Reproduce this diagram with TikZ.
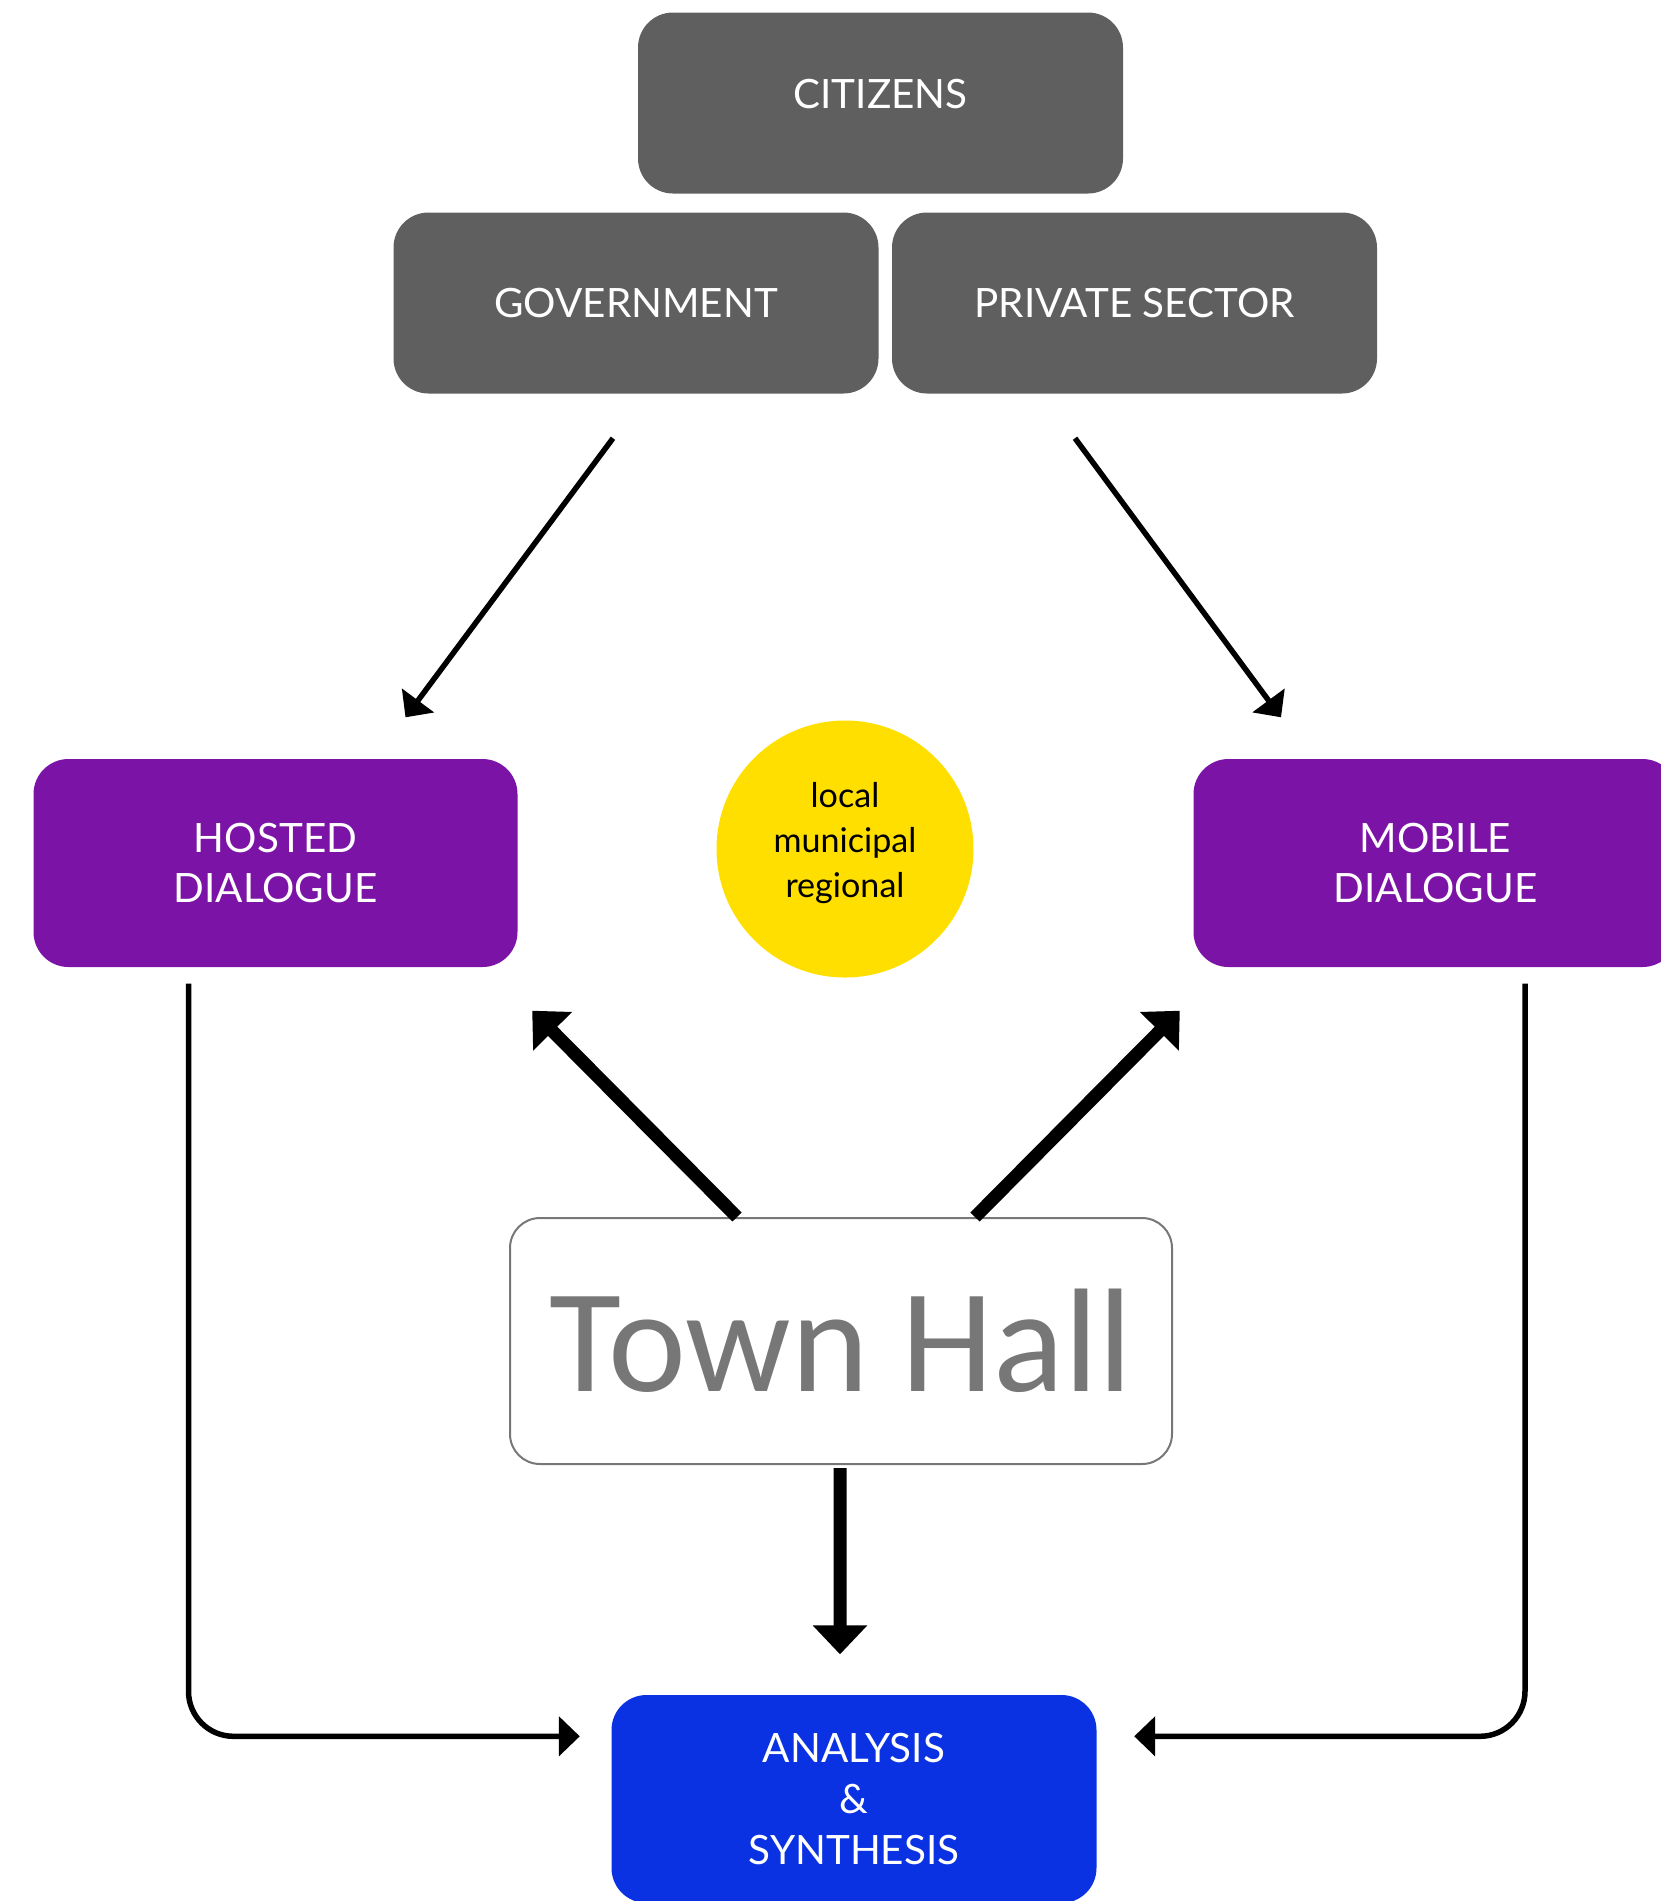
\documentclass[tikz,border=0pt]{standalone}
\usepackage{fontspec}
\setmainfont{Lato}
\newfontfamily\hallfont{Carlito}
\usetikzlibrary{arrows.meta}

\definecolor{boxgrey}{HTML}{5F5F5F}
\definecolor{dialogpurple}{HTML}{7B14A6}
\definecolor{scopeyellow}{HTML}{FFDF00}
\definecolor{resultblue}{HTML}{0A32E2}
\definecolor{hallgrey}{HTML}{777777}

\begin{document}
\begin{tikzpicture}[
  actor/.style={fill=boxgrey, rounded corners=0.35cm, minimum width=4.85cm,
    minimum height=1.81cm, inner sep=0pt, text=white,
    font=\fontsize{11.5}{14}\selectfont},
  channel/.style={fill=dialogpurple, rounded corners=0.35cm, minimum width=4.84cm,
    minimum height=2.08cm, inner sep=0pt, text=white, align=center,
    font=\fontsize{11.5}{14.5}\selectfont},
  thinarrow/.style={line width=0.055cm, -{Triangle[length=0.21cm,width=0.39cm]}},
  thickarrow/.style={line width=0.13cm, -{Triangle[length=0.29cm,width=0.53cm]}}
]
  \useasboundingbox (0,0) rectangle (16.61,-19.01);

  \node (cit) at (8.805,-1.03) [actor, text depth=0.18cm] {CITIZENS};
  \node (gov) at (6.36,-3.03) [actor] {GOVERNMENT};
  \node (priv) at (11.345,-3.03) [actor] {PRIVATE SECTOR};

  \node (host) at (2.755,-8.63) [channel] {HOSTED\\DIALOGUE};
  \node (mob) at (14.355,-8.63) [channel] {MOBILE\\DIALOGUE};
  \node (scope) at (8.45,-8.49) [circle, fill=scopeyellow, minimum size=2.57cm,
    inner sep=0pt, align=center, text depth=0.19cm,
    font=\fontsize{9.7}{12.8}\selectfont] {local\\municipal\\regional};

  \node (hall) at (8.41,-13.41) [draw=hallgrey, line width=0.02cm,
    rounded corners=0.3cm, minimum width=6.62cm, minimum height=2.46cm,
    text=hallgrey, font=\hallfont\fontsize{42}{42}\selectfont] {Town Hall};

  \node (ana) at (8.54,-17.99) [fill=resultblue, rounded corners=0.35cm,
    minimum width=4.85cm, minimum height=2.08cm, inner sep=0pt, text=white,
    align=center, font=\fontsize{11.5}{14.5}\selectfont] {ANALYSIS\\\&\\SYNTHESIS};

  \draw[thinarrow] ([shift={(-0.23,-0.44)}]gov.south) -- ([shift={(1.3,0.41)}]host.north);
  \draw[thinarrow] ([shift={(-0.595,-0.44)}]priv.south) -- ([shift={(-1.545,0.41)}]mob.north);

  \draw[thickarrow] ([xshift=-1.04cm]hall.north) -- ([shift={(0.14,-0.43)}]host.south east);
  \draw[thickarrow] ([xshift=1.34cm]hall.north) -- ([shift={(-0.13,-0.43)}]mob.south west);
  \draw[thickarrow] ([shift={(-0.01,-0.03)}]hall.south) -- ([shift={(-0.14,0.40)}]ana.north);

  \draw[thinarrow, rounded corners=0.45cm] ([shift={(-0.87,-0.16)}]host.south)
    |- ([shift={(-0.31,-0.42)}]ana.north west);
  \draw[thinarrow, rounded corners=0.45cm] ([shift={(0.895,-0.16)}]mob.south)
    |- ([shift={(0.37,-0.42)}]ana.north east);
\end{tikzpicture}
\end{document}
